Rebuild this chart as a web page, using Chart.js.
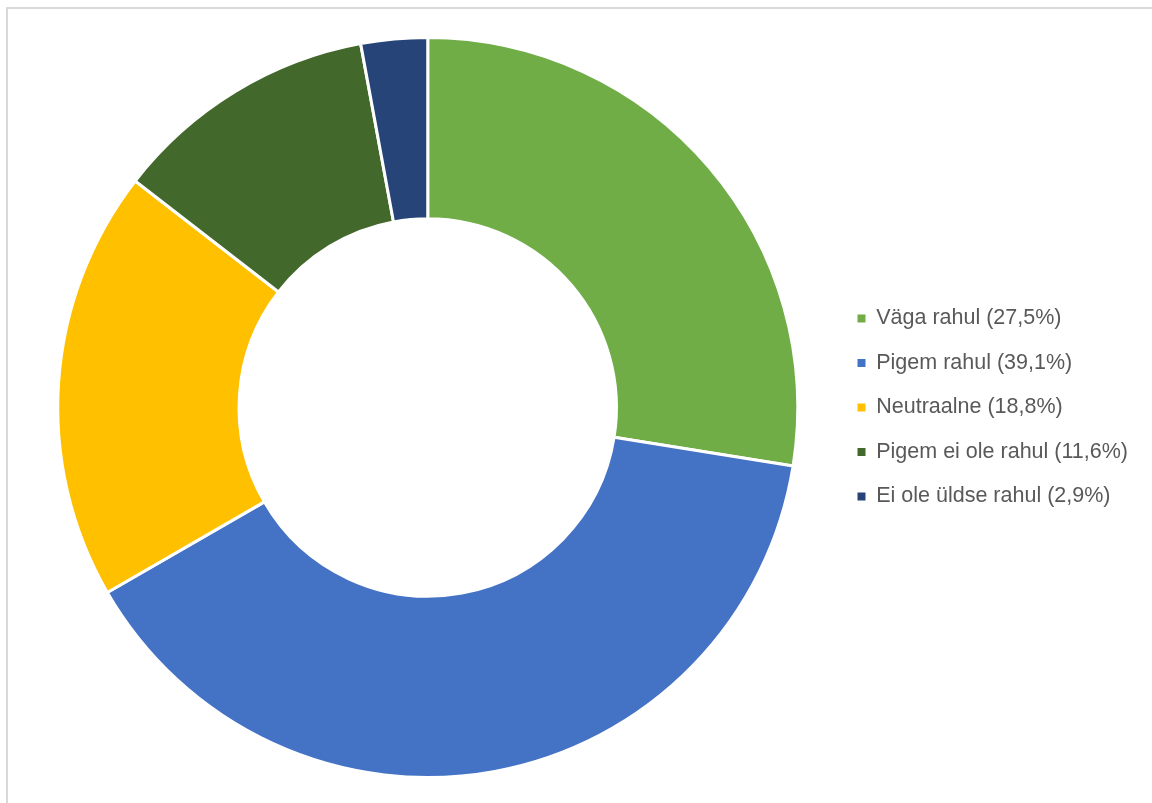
<!DOCTYPE html>
<html>
<head>
<meta charset="utf-8">
<script src="https://cdn.jsdelivr.net/npm/chart.js@4"></script>
<style>
  html, body { margin: 0; padding: 0; background: #fff; }
  #frame {
    position: absolute; left: 6px; top: 7px; width: 1160px; height: 810px;
    border-left: 2px solid #d9d9d9; border-top: 2px solid #d9d9d9;
  }
  #wrap { position: absolute; left: 0; top: 0; width: 1152px; height: 803px; }
</style>
</head>
<body>
<div id="frame"></div>
<div id="wrap"><canvas id="donut"></canvas></div>
<script>
const categories = [
  'Väga rahul (27,5%)',
  'Pigem rahul (39,1%)',
  'Neutraalne (18,8%)',
  'Pigem ei ole rahul (11,6%)',
  'Ei ole üldse rahul (2,9%)'
];
const shares = [27.5, 39.1, 18.8, 11.6, 2.9];
const sliceColors = ['#70AD47', '#4472C4', '#FFC000', '#43682B', '#264478'];

const ctx = document.getElementById('donut').getContext('2d');
new Chart(ctx, {
  type: 'doughnut',
  data: {
    labels: categories,
    datasets: [{
      data: shares,
      backgroundColor: sliceColors,
      borderColor: '#ffffff',
      borderWidth: 3
    }]
  },
  options: {
    responsive: true,
    maintainAspectRatio: false,
    animation: false,
    cutout: '51%',
    layout: { padding: { left: 21, top: 36, bottom: 24, right: 14 } },
    plugins: {
      tooltip: { enabled: false },
      legend: {
        position: 'right',
        align: 'center',
        labels: {
          boxWidth: 8,
          boxHeight: 8,
          padding: 23,
          color: '#595959',
          font: { family: 'Liberation Sans', size: 21.5 },
          generateLabels: function(chart) {
            const items = Chart.overrides.doughnut.plugins.legend.labels.generateLabels(chart);
            items.forEach(function(it) { it.lineWidth = 0; });
            return items;
          }
        }
      }
    }
  }
});
</script>
</body>
</html>
